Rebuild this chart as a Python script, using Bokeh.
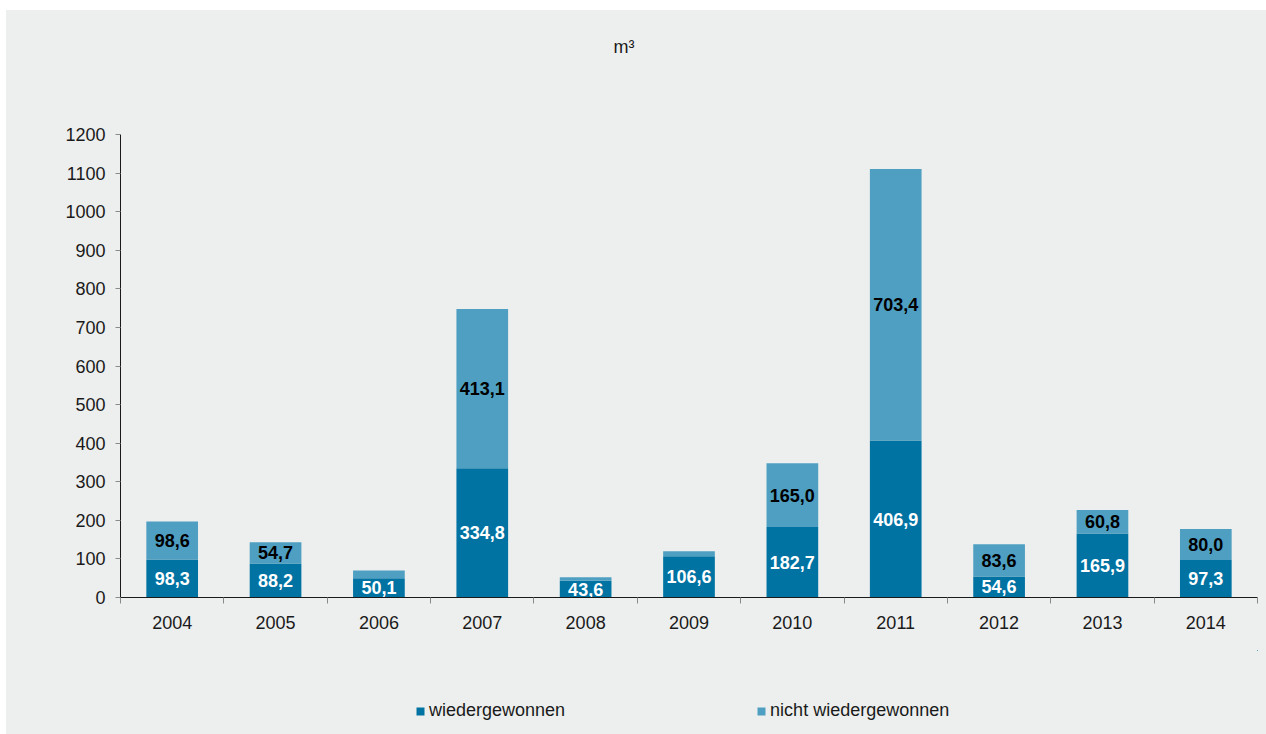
from bokeh.plotting import figure
from bokeh.models import (Range1d, FixedTicker, Legend, LegendItem, ColumnDataSource, Title)
from bokeh.layouts import column
from bokeh.embed import file_html
from bokeh.resources import INLINE

years = ["2004", "2005", "2006", "2007", "2008", "2009", "2010", "2011", "2012", "2013", "2014"]
wiedergewonnen = [98.3, 88.2, 50.1, 334.8, 43.6, 106.6, 182.7, 406.9, 54.6, 165.9, 97.3]
nicht_wiedergewonnen = [98.6, 54.7, 20.0, 413.1, 9.0, 13.0, 165.0, 703.4, 83.6, 60.8, 80.0]
y_ticks = list(range(0, 1201, 100))
title_text = "m³"
series_names = ["wiedergewonnen", "nicht wiedergewonnen"]

DARK = "#0073a3"
LIGHT = "#4e9fc2"
BG = "#edefee"
FONT = "Liberation Sans"

xs = list(range(len(years)))
src = ColumnDataSource(dict(x=xs, a=wiedergewonnen, b=nicht_wiedergewonnen))

p = figure(width=1260, height=640, output_backend="svg", toolbar_location=None,
           x_range=Range1d(-0.5, len(years) - 0.5), y_range=Range1d(0, 1200),
           min_border_left=114, min_border_right=9, min_border_top=124, min_border_bottom=53,
           background_fill_color=BG, border_fill_color=BG, outline_line_color=None)

rs = p.vbar_stack(["a", "b"], x="x", width=0.5, source=src, color=[DARK, LIGHT], line_width=0)

# value labels
lab_x, lab_y, lab_t, lab_c = [], [], [], []
for i in xs:
    a = wiedergewonnen[i]
    b = nicht_wiedergewonnen[i]
    if a >= 30:
        lab_x.append(i); lab_y.append(a / 2); lab_t.append(f"{a:.1f}".replace(".", ",")); lab_c.append("white")
    if b >= 30:
        lab_x.append(i); lab_y.append(a + b / 2); lab_t.append(f"{b:.1f}".replace(".", ",")); lab_c.append("black")
lsrc = ColumnDataSource(dict(x=lab_x, y=lab_y, t=lab_t, c=lab_c))
p.text(x="x", y="y", text="t", text_color="c", source=lsrc, text_align="center",
       text_baseline="middle", text_font_size="18px", text_font_style="bold",
       text_font={"value": FONT})

p.xgrid.visible = False
p.ygrid.visible = False

# y axis
ya = p.yaxis[0]
ya.ticker = FixedTicker(ticks=y_ticks)
ya.major_tick_out = 5
ya.major_tick_in = 0
ya.minor_tick_out = 0
ya.minor_tick_in = 0
ya.major_tick_line_color = "#8a8a8a"
ya.axis_line_color = "#1a1a1a"
ya.major_label_text_font = FONT
ya.major_label_text_font_size = "18px"
ya.major_label_text_color = "#1a1a1a"
ya.major_label_standoff = 10

# x axis
xa = p.xaxis[0]
xa.ticker = FixedTicker(ticks=xs, minor_ticks=[i - 0.5 for i in range(len(years) + 1)])
xa.major_label_overrides = {i: y for i, y in zip(xs, years)}
xa.major_tick_out = 0
xa.major_tick_in = 0
xa.minor_tick_out = 6
xa.minor_tick_in = 0
xa.minor_tick_line_color = "#8a8a8a"
xa.axis_line_color = "#1a1a1a"
xa.major_label_text_font = FONT
xa.major_label_text_font_size = "18px"
xa.major_label_text_color = "#1a1a1a"
xa.major_label_standoff = 12

# title (outermost) + spacer between it and the frame
p.title.text = title_text
p.title.align = "left"
p.title.offset = 493
p.title.standoff = 0
p.title.text_font = FONT
p.title.text_font_size = "18px"
p.title.text_font_style = "normal"
p.title.text_color = "#1a1a1a"
p.add_layout(Title(text=" ", text_font_size="18px", standoff=56), "above")

# legend strip (its renderers lie outside its ranges, only the legend shows)
pl = figure(width=1260, height=84, output_backend="svg", toolbar_location=None,
            x_range=Range1d(-20, -19), y_range=Range1d(-20, -19), x_axis_type=None, y_axis_type=None,
            min_border_left=0, min_border_right=0, min_border_top=0, min_border_bottom=0,
            background_fill_color=BG, background_fill_alpha=0, border_fill_color=BG,
            outline_line_color=None)
pl.xgrid.visible = False
pl.ygrid.visible = False
lrs = pl.vbar_stack(["a", "b"], x="x", width=0.5, source=src, color=[DARK, LIGHT], line_width=0)
legend = Legend(items=[LegendItem(label=series_names[0], renderers=[lrs[0]]),
                       LegendItem(label=series_names[1], renderers=[lrs[1]])],
                orientation="horizontal", location=(295, 13),
                glyph_width=10, glyph_height=10, label_standoff=4, spacing=191,
                padding=0, margin=0, background_fill_alpha=0, border_line_alpha=0,
                label_text_font=FONT, label_text_font_size="18px", label_text_color="#1a1a1a")
pl.add_layout(legend, "center")

layout = column(p, pl, spacing=0)
layout.margin = (10, 0, 0, 6)
layout.styles = {"background-color": BG}

open("out.html", "w").write(file_html(layout, INLINE))
